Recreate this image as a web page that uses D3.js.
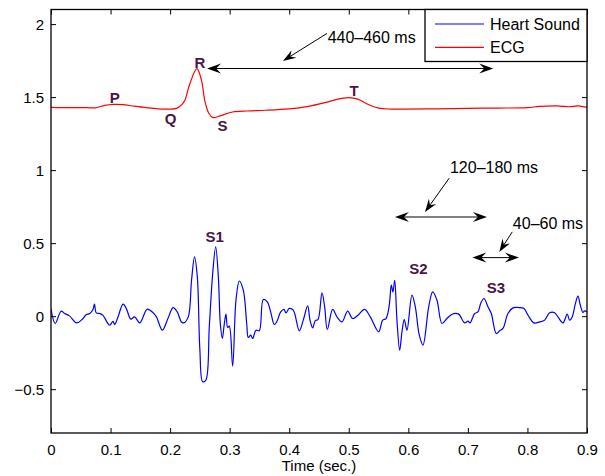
<!DOCTYPE html>
<html>
<head>
<meta charset="utf-8">
<script src="https://cdn.jsdelivr.net/npm/d3@7"></script>
<style>
  html, body { margin: 0; padding: 0; background: #fff; }
  svg { display: block; font-family: "Liberation Sans", Arial, Helvetica, sans-serif; }
</style>
</head>
<body>
<svg id="chart" width="605" height="476"></svg>
<script>
// ---------------- data ----------------
const xTicks = [0, 0.1, 0.2, 0.3, 0.4, 0.5, 0.6, 0.7, 0.8, 0.9];
const xTickLabels = ["0", "0.1", "0.2", "0.3", "0.4", "0.5", "0.6", "0.7", "0.8", "0.9"];
const yTicks = [-0.5, 0, 0.5, 1, 1.5, 2];
const yTickLabels = ["\u22120.5", "0", "0.5", "1", "1.5", "2"];
const xDomain = [0, 0.9];
const yDomain = [-0.8, 2.1];
const xLabel = "Time (sec.)";
const seriesNames = ["Heart Sound", "ECG"];
const seriesColors = ["#0000ff", "#ff0000"];

const ecgTime  = [0, 0.02, 0.04, 0.06, 0.075, 0.09, 0.105, 0.12, 0.14, 0.16, 0.18, 0.2, 0.212, 0.22, 0.225, 0.233, 0.245, 0.253, 0.258, 0.265, 0.272, 0.284, 0.305, 0.33, 0.36, 0.4, 0.43, 0.46, 0.48, 0.5, 0.515, 0.53, 0.55, 0.57, 0.6, 0.65, 0.7, 0.75, 0.8, 0.82, 0.85, 0.87, 0.885, 0.9];
const ecgValue = [1.43, 1.428, 1.428, 1.428, 1.427, 1.443, 1.45, 1.449, 1.438, 1.428, 1.42, 1.418, 1.425, 1.45, 1.48, 1.59, 1.695, 1.61, 1.48, 1.39, 1.36, 1.372, 1.398, 1.405, 1.41, 1.42, 1.435, 1.462, 1.485, 1.496, 1.486, 1.455, 1.425, 1.418, 1.418, 1.42, 1.423, 1.425, 1.428, 1.436, 1.44, 1.434, 1.44, 1.43];

const hsTime = [0, 0.007, 0.017, 0.023, 0.031, 0.043, 0.051, 0.059, 0.065, 0.0705, 0.073, 0.076, 0.082, 0.087, 0.0985, 0.104, 0.107, 0.1125, 0.121, 0.1265, 0.134, 0.1405, 0.149, 0.1617, 0.171, 0.177, 0.187, 0.196, 0.205, 0.212, 0.219, 0.223, 0.2305, 0.236, 0.241, 0.2457, 0.25, 0.2547, 0.26, 0.2658, 0.2715, 0.2765, 0.281, 0.2843, 0.2877, 0.2905, 0.2938, 0.2966, 0.2994, 0.305, 0.3106, 0.3162, 0.3229, 0.3286, 0.3313, 0.3353, 0.3386, 0.3442, 0.3497, 0.3565, 0.3632, 0.3688, 0.375, 0.379, 0.3857, 0.3912, 0.3946, 0.4001, 0.4068, 0.4169, 0.4236, 0.431, 0.4349, 0.4394, 0.4438, 0.4483, 0.455, 0.4595, 0.4639, 0.473, 0.4802, 0.4886, 0.4981, 0.5065, 0.5154, 0.5266, 0.5361, 0.5502, 0.5569, 0.5625, 0.568, 0.5714, 0.5742, 0.5771, 0.5809, 0.5855, 0.5893, 0.5932, 0.5977, 0.6061, 0.6117, 0.6184, 0.6246, 0.6342, 0.6409, 0.6481, 0.6565, 0.6649, 0.6721, 0.6766, 0.6845, 0.6946, 0.7001, 0.7035, 0.7114, 0.7169, 0.7215, 0.727, 0.7337, 0.7393, 0.7477, 0.7533, 0.7589, 0.7673, 0.7757, 0.7852, 0.7942, 0.8009, 0.8109, 0.8205, 0.8289, 0.8373, 0.8457, 0.8512, 0.8596, 0.8668, 0.8708, 0.8752, 0.8803, 0.8848, 0.8887, 0.8932, 0.896, 0.9];
const hsValue = [0.05, -0.05, 0.034, 0.018, 0.002, -0.046, -0.027, 0.009, 0.018, 0.046, 0.082, 0.023, 0.018, 0.007, -0.062, -0.036, -0.057, -0.005, 0.082, 0.052, -0.02, -0.005, -0.046, 0.048, 0.025, -0.005, -0.096, -0.02, 0.059, 0.029, -0.04, -0.046, -0.005, 0.246, 0.406, 0.269, -0.233, -0.449, -0.438, -0.073, 0.292, 0.474, 0.269, -0.05, -0.153, -0.068, 0.014, -0.077, -0.068, -0.342, 0.109, 0.241, 0.178, -0.05, -0.146, -0.13, -0.153, -0.096, -0.1, 0.114, 0.098, 0.029, -0.057, -0.039, 0.029, 0.046, 0.023, 0.053, 0.041, -0.1, -0.027, 0.07, -0.027, -0.08, -0.03, -0.023, 0.159, 0.064, -0.091, 0.046, -0.005, -0.039, 0.034, -0.016, 0.007, 0.046, -0.005, -0.107, -0.027, -0.016, 0.075, 0.212, 0.166, 0.246, -0.027, -0.233, -0.107, -0.023, -0.096, 0.144, 0.064, -0.13, -0.198, 0.064, 0.166, 0.109, -0.05, -0.016, 0.01, 0.018, 0.014, -0.046, -0.034, -0.046, 0.018, 0.029, 0.087, 0.121, 0.064, 0.018, -0.119, -0.1, -0.084, 0.018, 0.057, 0.059, 0.053, 0.007, -0.046, -0.039, -0.027, 0.023, 0.023, -0.005, -0.046, 0.014, -0.027, -0.005, 0.082, 0.137, 0.077, 0.025, 0.036, 0.029];

// wave labels: text, time, value
const waveLabels = ["P", "Q", "R", "S", "T", "S1", "S2", "S3"];
const waveLabelT = [0.107, 0.201, 0.25, 0.288, 0.509, 0.275, 0.617, 0.747];
const waveLabelV = [1.496, 1.352, 1.739, 1.306, 1.546, 0.542, 0.326, 0.196];

// interval annotations: double arrows (t0, t1, v), pointer (from t,v to t,v), text
const intervalTexts = ["440\u2013460 ms", "120\u2013180 ms", "40\u201360 ms"];
const intervalT0 = [0.262, 0.5776, 0.7074];
const intervalT1 = [0.7426, 0.732, 0.7858];
const intervalV  = [1.696, 0.679, 0.401];
const pointerFromT = [0.4634, 0.6687, 0.7745];
const pointerFromV = [1.936, 0.9453, 0.577];
const pointerToT   = [0.3895, 0.628, 0.7527];
const pointerToV   = [1.748, 0.713, 0.440];
const textT = [0.4645, 0.6699, 0.7755];
const textV = [1.908, 1.021, 0.638];

// ---------------- layout ----------------
const svg = d3.select("#chart");
const L = 51, R = 587, T = 9.5, B = 433;
const x = d3.scaleLinear().domain(xDomain).range([L, R]);
const y = d3.scaleLinear().domain(yDomain).range([B, T]);

// lines
const line = d3.line().curve(d3.curveCatmullRom.alpha(0.5));
const hsPts = hsTime.map((t, i) => [x(t), y(hsValue[i])]);
const ecgPts = ecgTime.map((t, i) => [x(t), y(ecgValue[i])]);

svg.append("defs").append("clipPath").attr("id", "clip")
  .append("rect").attr("x", L).attr("y", T).attr("width", R - L).attr("height", B - T);

const plot = svg.append("g").attr("clip-path", "url(#clip)");
plot.append("path").attr("d", line(hsPts)).attr("fill", "none")
  .attr("stroke", seriesColors[0]).attr("stroke-width", 1.2).attr("stroke-linejoin", "round");
plot.append("path").attr("d", line(ecgPts)).attr("fill", "none")
  .attr("stroke", seriesColors[1]).attr("stroke-width", 1.2).attr("stroke-linejoin", "round");

// axes
const fmtX = (d, i) => xTickLabels[i];
const fmtY = (d, i) => yTickLabels[i];
const gx = svg.append("g").attr("transform", `translate(0,${B})`)
  .call(d3.axisBottom(x).tickValues(xTicks).tickFormat(fmtX).tickSizeInner(-5).tickSizeOuter(0).tickPadding(11));
const gxt = svg.append("g").attr("transform", `translate(0,${T})`)
  .call(d3.axisTop(x).tickValues(xTicks).tickFormat("").tickSizeInner(-5).tickSizeOuter(0));
const gy = svg.append("g").attr("transform", `translate(${L},0)`)
  .call(d3.axisLeft(y).tickValues(yTicks).tickFormat(fmtY).tickSizeInner(-5).tickSizeOuter(0).tickPadding(7));
const gyr = svg.append("g").attr("transform", `translate(${R},0)`)
  .call(d3.axisRight(y).tickValues(yTicks).tickFormat("").tickSizeInner(-5).tickSizeOuter(0));

[gx, gxt, gy, gyr].forEach(g => {
  g.select(".domain").remove();
  g.selectAll(".tick line").attr("stroke", "#000").attr("stroke-width", 1);
  g.selectAll(".tick text").attr("fill", "#000").style("font-size", "15px")
    .style("font-family", '"Liberation Sans", Arial, Helvetica, sans-serif');
});
gy.selectAll(".tick text").attr("dy", "0.36em");

// box
svg.append("rect").attr("x", L).attr("y", T).attr("width", R - L).attr("height", B - T)
  .attr("fill", "none").attr("stroke", "#000").attr("stroke-width", 1.3);

// x label
svg.append("text").attr("x", (L + R) / 2).attr("y", 471).attr("text-anchor", "middle")
  .style("font-size", "15px").attr("fill", "#000").text(xLabel);

// wave labels
waveLabels.forEach((s, i) => {
  svg.append("text").attr("x", x(waveLabelT[i])).attr("y", y(waveLabelV[i]))
    .attr("text-anchor", "middle").attr("dy", "0.36em")
    .style("font-size", "15px").style("font-weight", "bold")
    .attr("fill", "#4a1548").text(s);
});

// arrowhead helper (MATLAB vback2 style)
function head(tipX, tipY, ang, len, hw, notch) {
  const c = Math.cos(ang), s = Math.sin(ang);
  const p = (dx, dy) => [tipX + dx * c - dy * s, tipY + dx * s + dy * c];
  const pts = [p(0, 0), p(-len, hw), p(-notch, 0), p(-len, -hw)];
  return "M" + pts.map(q => q.join(",")).join("L") + "Z";
}

intervalTexts.forEach((txt, i) => {
  const x0 = x(intervalT0[i]), x1 = x(intervalT1[i]), yy = y(intervalV[i]);
  svg.append("line").attr("x1", x0 + 6).attr("x2", x1 - 6).attr("y1", yy).attr("y2", yy)
    .attr("stroke", "#000").attr("stroke-width", 1);
  svg.append("path").attr("d", head(x0, yy, Math.PI, 14, 5, 9)).attr("fill", "#000");
  svg.append("path").attr("d", head(x1, yy, 0, 14, 5, 9)).attr("fill", "#000");

  const fx = x(pointerFromT[i]), fy = y(pointerFromV[i]);
  const tx = x(pointerToT[i]), ty = y(pointerToV[i]);
  const ang = Math.atan2(ty - fy, tx - fx);
  svg.append("line").attr("x1", fx).attr("y1", fy)
    .attr("x2", tx - 6 * Math.cos(ang)).attr("y2", ty - 6 * Math.sin(ang))
    .attr("stroke", "#000").attr("stroke-width", 1);
  svg.append("path").attr("d", head(tx, ty, ang, 13, 4.5, 8.5)).attr("fill", "#000");

  svg.append("text").attr("x", x(textT[i])).attr("y", y(textV[i])).attr("dy", "0.36em")
    .style("font-size", "16px").attr("fill", "#000").text(txt);
});

// legend
const lg = svg.append("g");
lg.append("rect").attr("x", 425).attr("y", T).attr("width", R - 425).attr("height", 52)
  .attr("fill", "#fff").attr("stroke", "#000").attr("stroke-width", 1.3);
seriesNames.forEach((n, i) => {
  const yy = 24 + i * 23.3;
  lg.append("line").attr("x1", 435).attr("x2", 484).attr("y1", yy).attr("y2", yy)
    .attr("stroke", seriesColors[i]).attr("stroke-width", 1.2);
  lg.append("text").attr("x", 490).attr("y", yy).attr("dy", "0.36em")
    .style("font-size", "16px").attr("fill", "#000").text(n);
});
</script>
</body>
</html>
